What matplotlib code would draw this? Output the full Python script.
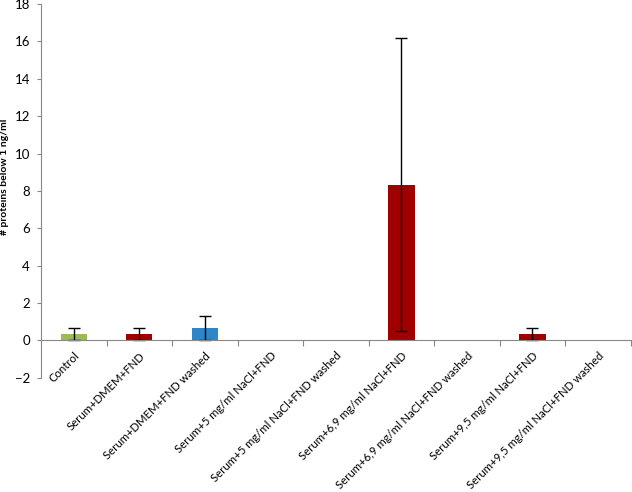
import matplotlib.pyplot as plt

plt.rcParams['font.family'] = 'Lato'

categories = ['Control', 'Serum+DMEM+FND', 'Serum+DMEM+FND washed',
              'Serum+5 mg/ml NaCl+FND', 'Serum+5 mg/ml NaCl+FND washed',
              'Serum+6,9 mg/ml NaCl+FND', 'Serum+6,9 mg/ml NaCl+FND washed',
              'Serum+9,5 mg/ml NaCl+FND', 'Serum+9,5 mg/ml NaCl+FND washed']
values = [0.333, 0.333, 0.667, 0, 0, 8.33, 0, 0.333, 0]
errors = [0.333, 0.333, 0.667, 0, 0, 7.85, 0, 0.333, 0]
colors = ['#9BBB59', '#A00000', '#2E86C8', '#A00000', '#A00000',
          '#A00000', '#A00000', '#A00000', '#A00000']

fig = plt.figure(figsize=(6.32, 4.92), dpi=100)
ax = fig.add_axes([0.065, 0.232, 0.933, 0.76])

x = range(len(categories))
ax.bar(x, values, width=0.4, color=colors)
for i, (v, e) in enumerate(zip(values, errors)):
    if e > 0:
        ax.errorbar(i, v, yerr=e, fmt='none', ecolor='black', elinewidth=1,
                    capsize=4, capthick=1)

ax.set_xlim(-0.5, len(categories) - 0.5)
ax.set_ylim(-2, 18)
ax.set_yticks(range(-2, 19, 2))
ax.tick_params(axis='y', labelsize=9.5, length=3, color='#888888', pad=5)

ax.spines['top'].set_visible(False)
ax.spines['right'].set_visible(False)
ax.spines['left'].set_color('#888888')
ax.spines['bottom'].set_position(('data', 0))
ax.spines['bottom'].set_color('#888888')

ax.set_xticks([i + 0.5 for i in range(len(categories))])
ax.set_xticklabels([])
ax.tick_params(axis='x', length=4, color='#888888')
ax.set_xticks(list(x), minor=True)
ax.set_xticklabels(categories, minor=True, rotation=45, ha='right',
                   rotation_mode='anchor', fontsize=8.2)
ax.tick_params(axis='x', which='minor', length=0, pad=7)

ax.set_ylabel('# proteins below 1 ng/ml', fontsize=7.5, fontweight='bold')
ax.yaxis.set_label_coords(-0.054, 0.537)

fig.savefig('out.png', dpi=100)
